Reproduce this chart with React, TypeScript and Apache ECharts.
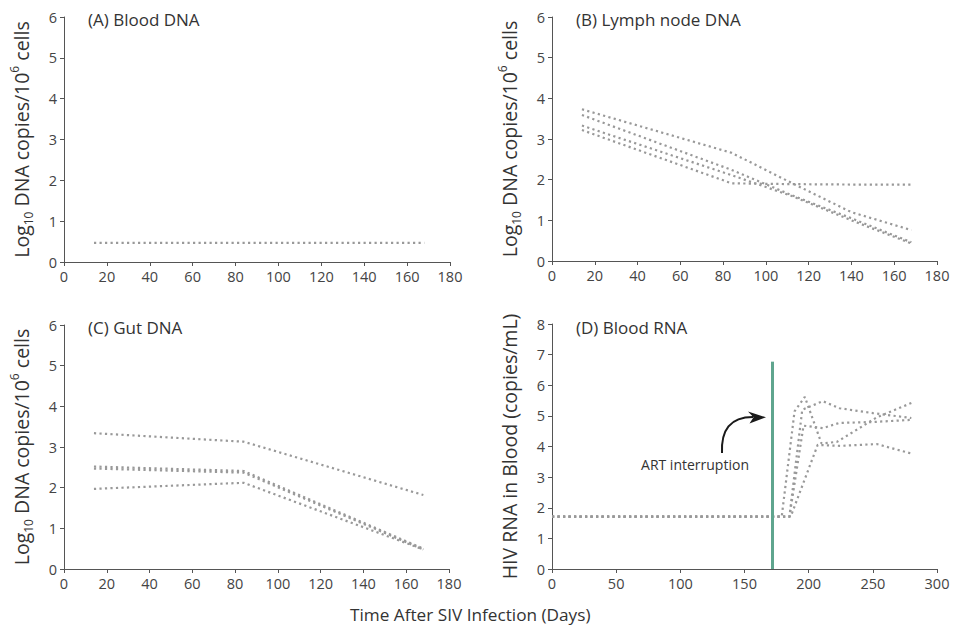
import React, { useEffect, useRef } from "react";
import * as echarts from "echarts";

// ---- Data ----
const panelTitles = ["(A) Blood DNA", "(B) Lymph node DNA", "(C) Gut DNA", "(D) Blood RNA"];
const xAxisTitle = "Time After SIV Infection (Days)";
const rnaAxisName = "HIV RNA in Blood (copies/mL)";
const annotationText = "ART interruption";

const dnaDayMax = 180;
const dnaDayStep = 20;
const dnaLogMax = 6;
const rnaDayMax = 300;
const rnaDayStep = 50;
const rnaLogMax = 8;

// (A) Blood DNA
const bloodDnaDays = [14, 84, 168];
const bloodDna1 = [0.47, 0.47, 0.47];

// (B) Lymph node DNA
const lymphDays = [14, 84, 112, 140, 168];
const lymph1 = [3.73, 2.66, 1.92, 1.2, 0.76];
const lymph2 = [3.59, 2.24, 1.62, 1.05, 0.46];
const lymph3 = [3.33, 2.11, 1.6, 1.0, 0.43];
const lymph4 = [3.22, 1.91, 1.89, 1.88, 1.88];

// (C) Gut DNA
const gutDays = [14, 84, 168];
const gut1 = [3.34, 3.13, 1.82];
const gut2 = [2.52, 2.41, 0.5];
const gut3 = [2.47, 2.37, 0.48];
const gut4 = [1.97, 2.12, 0.48];

// (D) Blood RNA
const rna1Days = [0, 179, 189, 197, 210, 222, 253, 280];
const rna1 = [1.71, 1.71, 5.15, 5.62, 4.1, 4.15, 4.95, 5.42];
const rna2Days = [0, 185, 195, 211, 224, 250, 280];
const rna2 = [1.71, 1.71, 5.2, 5.48, 5.25, 5.09, 4.93];
const rna3Days = [0, 185, 196, 211, 224, 250, 280];
const rna3 = [1.71, 1.71, 4.68, 4.6, 4.77, 4.8, 4.87];
const rna4Days = [0, 186, 207, 225, 253, 280];
const rna4 = [1.71, 1.71, 4.05, 4.02, 4.08, 3.77];

const artInterruptionDay = 171.3;
const artLineTop = 6.77;

// ---- Styling ----
const FONT = "Open Sans";
const TEXT = "#333333";
const AXIS = "#555";
const DOT = "#999999";

function pairs(xs: number[], ys: number[]) {
  return xs.map((x, i) => [x, ys[i]]);
}

export default function App() {
  const ref = useRef<HTMLDivElement>(null);
  useEffect(() => {
    if (!ref.current) return;
    const chart = echarts.init(ref.current, undefined, { renderer: "svg" });

    const grids = [
      { left: 64, top: 17, width: 386, height: 245 },
      { left: 552, top: 17, width: 385, height: 244 },
      { left: 64, top: 325, width: 385, height: 244 },
      { left: 552, top: 324, width: 385, height: 245 },
    ];

    const axisLine = { show: true, lineStyle: { color: AXIS, width: 1 } };
    const axisTick = { show: true, inside: false, length: 4, lineStyle: { color: AXIS, width: 1 } };
    const axisLabel = { color: "#444", fontSize: 14.5, fontFamily: FONT, margin: 7 };

    const xAxis = grids.map((_, i) => ({
      type: "value",
      gridIndex: i,
      min: 0,
      max: i === 3 ? rnaDayMax : dnaDayMax,
      interval: i === 3 ? rnaDayStep : dnaDayStep,
      axisLine,
      axisTick,
      axisLabel,
      splitLine: { show: false },
    }));

    const dnaName = "{a|Log}{sub|10}{a| DNA copies/10}{sup|6}{a| cells}";
    const nameRich = {
      a: { fontSize: 19.5, fontFamily: FONT, color: TEXT, lineHeight: 26 },
      sub: { fontSize: 12, fontFamily: FONT, color: TEXT, verticalAlign: "bottom", lineHeight: 13 },
      sup: { fontSize: 12, fontFamily: FONT, color: TEXT, verticalAlign: "top", lineHeight: 13 },
    };

    const yAxis = grids.map((_, i) => ({
      type: "value",
      gridIndex: i,
      min: 0,
      max: i === 3 ? rnaLogMax : dnaLogMax,
      interval: 1,
      name: i === 3 ? rnaAxisName : dnaName,
      nameLocation: "middle",
      nameRotate: 90,
      nameGap: i === 3 ? 33 : 30,
      nameTextStyle: {
        fontSize: 19.5,
        fontFamily: FONT,
        color: TEXT,
        rich: i === 3 ? undefined : nameRich,
      },
      axisLine,
      axisTick,
      axisLabel,
      splitLine: { show: false },
    }));

    const lineStyle = { color: DOT, width: 2.2, type: [2.2, 3.3] as any, cap: "butt" };
    const mk = (grid: number, xs: number[], ys: number[], extra: any = {}) => ({
      type: "line",
      xAxisIndex: grid,
      yAxisIndex: grid,
      data: pairs(xs, ys),
      showSymbol: false,
      symbol: "none",
      lineStyle,
      silent: true,
      ...extra,
    });

    const series: any[] = [
      mk(0, bloodDnaDays, bloodDna1),
      mk(1, lymphDays, lymph1),
      mk(1, lymphDays, lymph2),
      mk(1, lymphDays, lymph3),
      mk(1, lymphDays, lymph4),
      mk(2, gutDays, gut1),
      mk(2, gutDays, gut2),
      mk(2, gutDays, gut3),
      mk(2, gutDays, gut4),
      mk(3, rna1Days, rna1, {
        markLine: {
          silent: true,
          symbol: ["none", "none"],
          label: { show: false },
          lineStyle: { color: "#5fa58e", width: 3, type: "solid" },
          data: [[{ coord: [artInterruptionDay, 0] }, { coord: [artInterruptionDay, artLineTop] }]],
        },
      }),
      mk(3, rna2Days, rna2),
      mk(3, rna3Days, rna3),
      mk(3, rna4Days, rna4),
    ];

    const titlePos = [
      { left: 88, top: 11 },
      { left: 576, top: 11 },
      { left: 88, top: 319 },
      { left: 576, top: 319 },
    ];
    const title: any[] = panelTitles.map((t, i) => ({
      text: t,
      ...titlePos[i],
      padding: 0,
      textStyle: { fontSize: 17, fontWeight: "normal", fontFamily: FONT, color: TEXT },
    }));
    title.push({
      text: xAxisTitle,
      left: 350,
      top: 606,
      padding: 0,
      textStyle: { fontSize: 17.2, fontWeight: "normal", fontFamily: FONT, color: TEXT },
    });

    const graphic = [
      {
        type: "text",
        x: 695,
        y: 464,
        style: {
          text: annotationText,
          fill: TEXT,
          fontSize: 14,
          fontFamily: FONT,
          textAlign: "center",
          textVerticalAlign: "middle",
        },
      },
      {
        type: "bezierCurve",
        shape: { x1: 722, y1: 453, cpx1: 721, cpy1: 430, cpx2: 730, cpy2: 417, x2: 753, y2: 417 },
        style: { stroke: "#1a1a1a", lineWidth: 2, fill: null },
      },
      {
        type: "polygon",
        shape: { points: [[748, 411.5], [766, 417.3], [749.5, 423.5], [753.5, 417.3]] },
        style: { fill: "#1a1a1a" },
      },
    ];

    chart.setOption({
      animation: false,
      title,
      grid: grids,
      xAxis,
      yAxis,
      series,
      graphic,
    } as any);

    return () => chart.dispose();
  }, []);

  return (
    <div
      ref={ref}
      style={{ position: "fixed", left: 0, top: 0, width: 953, height: 633, background: "#fff" }}
    />
  );
}
